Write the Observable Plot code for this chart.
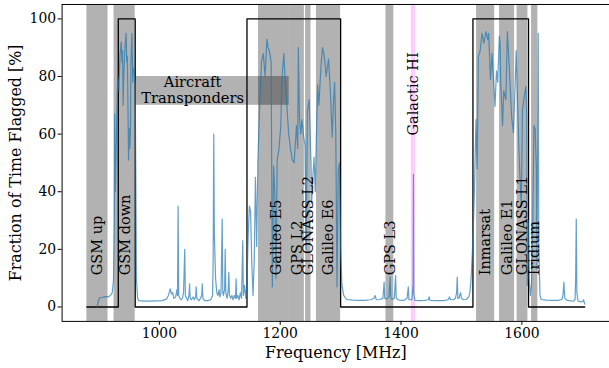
<!DOCTYPE html>
<html><head><meta charset="utf-8">
<script src="https://cdn.jsdelivr.net/npm/d3@7"></script>
<script src="https://cdn.jsdelivr.net/npm/@observablehq/plot@0.6"></script>
<style>
html,body{margin:0;padding:0;background:#fff;}
#chart{width:609px;height:368px;overflow:hidden;}
</style></head><body><div id="chart"></div>
<script>
// RFI bands [MHz]
const bandStart = [880, 925, 1164, 1215, 1242, 1260, 1375, 1525, 1563, 1592, 1616];
const bandEnd   = [915, 960, 1215, 1240, 1251, 1300, 1388, 1555, 1588, 1610, 1626.5];
const bandLabel = ["GSM up", "GSM down", "Galileo E5", "GPS L2", "GLONASS L2", "Galileo E6", "GPS L3", "Inmarsat", "Galileo E1", "GLONASS L1", "Iridium"];
const bandLabelX = [897.5, 943, 1193, 1228, 1247, 1280, 1381.5, 1540, 1575.5, 1601, 1621.2];

// Galactic HI
const hiStart = [1417];
const hiEnd = [1424];
const hiLabel = ["Galactic HI"];

// Aircraft transponders
const airStart = [960];
const airEnd = [1215];
const airLow = [70];
const airHigh = [80];
const airLabel = ["Aircraft\nTransponders"];
const airLabelX = [1055];
const airLabelY = [75.3];

// window (black step)
const windowFreq  = [880, 932, 960, 1145, 1300, 1519, 1611, 1704];
const windowValue = [0, 100, 0, 100, 0, 100, 0, 0];

// flagged fraction [%]
const flagFreq = [
 897,899,901,905,910,915,919,922,924,925.5,926,927,929,931,933,935,937,938,939,940,941,943,945,946,947,948,949,950,951,952,953,954.6,956,957,958,960,961,962,964,
 966,975,985,995,1005,1012,1015,1018,1020,1022,1024,1027,1029,1030,1031,1032,1034,1036,1038,1040,1042,1043,1045,1047,1049,1050,1051,1053,1056,1058,1060,1061,1062,1064,1066,1068,1070,1071,1072,1075,1080,1085,1088,1089,1090,1091,1092,1093,1095,1097,1099,1100,1102,1104,1105,1106,1108,1109,1110,1112,1114,1115,1116,1118,1120,1122,1124,1126,1127,1128,1130,1132,1134,1136,1138,1139,1141,1143,
 1145,1147,1149,1151,1153,1155,1157,1159,1161,1163,1166,1169,1172,1175,1178,1180,1182,1185,1187,1189,1191,1193,1195,1198,1201,1203,1206,1208,1211,1214,1217,1220,1223,1227,1229,1230,1232,1234,1236,1239,1241,1243,1245,1248,1249,1251,1252,1254,1256,1258,1260,1262,1264,1266,1268,1270,1272,1274,1276,1278,1280,1283,1286,1288,1290,1292,1294,1296,1298,1300,1302,
 1305,1310,1320,1330,1340,1350,1355,1357,1359,1365,1370,1372,1373,1376,1380,1382,1383,1386,1389,1391,1392,1396,1405,1410,1412,1413,1418,1420,1420.5,1421,1423,1430,1440,1445,1446.5,1448,1460,1470,1478,1480,1482,1487,1490,1492,1493,1494,1496,1497,1498.6,1500,1503,1508,1512,1514,1516,1518,1520,
 1522,1524,1526,1528,1531,1534,1537,1540.6,1543.5,1545,1548,1550.6,1553,1555.5,1558,1560,1562.7,1564,1565,1568,1570,1573.5,1576,1579,1581,1583,1586,1589,1590.6,1592.8,1595,1597,1599,1601,1604,1606.5,1608,1609,1610.5,1612,1614,1616,1618,1620,1622,1624,1625,1627,1628,1630,
 1632,1640,1650,1660,1666,1668,1669.5,1671,1675,1685,1688,1689,1690,1691,1693,1698,1701,1702,1704
];
const flagValue = [
 0,2,3.2,3.3,3.6,3.5,4,5,9,30,67,40,60,80,75,88,92,85,89,70,80,90,95,85,87,70,51,62,55,60,85,95,78,83,82,78,45,10,3,
 2.2,2.0,2.0,2.1,2.2,2.8,4,6.3,4.5,5,3,3.5,6,4,35,4,3,2.5,3,5,20,4,3,2.2,4,8,3,2.5,3.5,2.5,3.5,7,3,2.5,2.2,3,4,8,3,2.2,2.2,2.5,4,15,60,25,18,10,5,4,6,3.5,5,30.5,5,4,6,20,5,3,6,12,4,3,4,2.5,4,3,9.8,3,4,2.5,5,3,23,4,7.5,3,
 8,25,35,33,15,4,16,45,21,50,70,85,88,80,93,90,89,85,7,49,40,10,51,55,63,80,88,79,70,60,55,51,50,63,55,90,65,60,65,59,56,20,68,72,64,50,36,45,52,40,60,77,70,78,85,90,88,85,80,83,86,75,59,70,78,60,7,47,50,20,8,
 4,2.6,2.4,2.3,2.3,2.5,3,4,2.5,2.6,3,8.6,3,2.8,3.5,10.4,3,2.7,3,10.9,3,2.4,2.3,3,7,2.5,2.5,8,46,5,2.3,2.2,2.3,2.5,3.5,2.3,2.2,2.2,2.5,3.5,2.5,2.5,3,5,10.4,3,3,4,5,3,2.5,2.6,3.5,5,10,19,30,
 45,65,48,87,89,95,91.6,95.6,92.8,95,79,88,79,69.6,82,78,94,91.6,78,63,75,72,95.6,83.5,75,66,60.5,78,89,72,55,44,35,68.6,73,76.6,66,7.5,30,10,4,8,30,63,61.6,47.8,13,95,20,4,
 2.6,2.4,2.3,2.3,2.6,4,8.6,3,2.3,2,2.5,10,30.5,5,2,1.8,2,2.5,1
];

const xTicks = [1000, 1200, 1400, 1600];
const yTicks = [0, 20, 40, 60, 80, 100];

const bands = bandStart.map((s, i) => ({start: s, end: bandEnd[i], label: bandLabel[i], lx: bandLabelX[i]}));
const hi = hiStart.map((s, i) => ({start: s, end: hiEnd[i], label: hiLabel[i]}));
const air = airStart.map((s, i) => ({start: s, end: airEnd[i], lo: airLow[i], hi: airHigh[i], label: airLabel[i], lx: airLabelX[i], ly: airLabelY[i]}));
const win = windowFreq.map((f, i) => ({f, v: windowValue[i]}));
const flag = flagFreq.map((f, i) => ({f, v: flagValue[i]}));

const plot = Plot.plot({
  width: 613, height: 368,
  marginLeft: 62, marginRight: 0, marginTop: 4, marginBottom: 45,
  style: {fontFamily: "'DejaVu Serif', serif", fontSize: "14px", color: "black", background: "white", overflow: "visible"},
  x: {domain: [839, 1745]},
  y: {domain: [-5, 105]},
  marks: [
    Plot.rect(bands, {x1: "start", x2: "end", fill: "black", fillOpacity: 0.3}),
    Plot.rect(hi, {x1: "start", x2: "end", fill: "magenta", fillOpacity: 0.2}),
    Plot.rect(air, {x1: "start", x2: "end", y1: "lo", y2: "hi", fill: "black", fillOpacity: 0.3}),
    Plot.line(win, {x: "f", y: "v", curve: "step-after", stroke: "black", strokeWidth: 1.3}),
    Plot.line(flag, {x: "f", y: "v", stroke: "#1f77b4", strokeOpacity: 0.7, strokeWidth: 1.2}),
    Plot.text(bands, {x: "lx", y: 11, text: "label", rotate: -90, textAnchor: "start", fontSize: 14.6, fill: "black"}),
    Plot.text(hi, {x: d => (d.start + d.end) / 2, y: 59.5, text: "label", rotate: -90, textAnchor: "start", fontSize: 14.6, fill: "black"}),
    Plot.text(air, {x: "lx", y: "ly", text: "label", textAnchor: "middle", lineHeight: 1.08, fontSize: 14.8, fill: "black"}),
    Plot.axisX({ticks: xTicks, tickFormat: d => String(d), tickSize: 4, tickPadding: 3, label: null, fontSize: 14}),
    Plot.axisY({ticks: yTicks, tickFormat: d => String(d), tickSize: 4, tickPadding: 2, label: null, fontSize: 14}),
    Plot.frame({stroke: "black", strokeWidth: 1}),
    Plot.text(["Frequency [MHz]"], {frameAnchor: "bottom", dx: 0, dy: 32, lineAnchor: "middle", textAnchor: "middle", fontSize: 16, fill: "black"}),
    Plot.text(["Fraction of Time Flagged [%]"], {frameAnchor: "left", dx: -46, rotate: -90, textAnchor: "middle", lineAnchor: "middle", fontSize: 16, fill: "black"})
  ]
});
document.getElementById("chart").appendChild(plot);
</script></body></html>
